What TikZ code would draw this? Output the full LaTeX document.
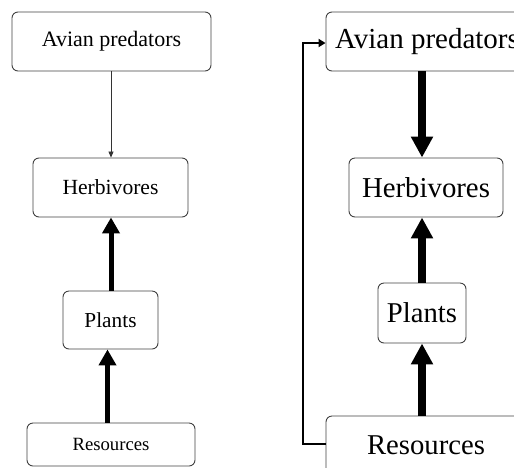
\documentclass[tikz,border=0pt]{standalone}
\usepackage{fontspec}
\setmainfont{Liberation Serif}
\usetikzlibrary{arrows.meta}
\begin{document}
\begin{tikzpicture}[x=1pt,y=-1pt,
  box/.style={draw=black!75,line width=0.9pt,rounded corners=6pt,inner sep=0pt,anchor=center},
  thickL/.style={line width=5pt,-{Triangle[width=17pt,length=16pt]}},
  thickR/.style={line width=7.5pt,-{Triangle[width=21pt,length=21pt]}},
  thinarr/.style={line width=0.8pt,black!80,-{Triangle[width=5pt,length=6pt]}},
  feed/.style={line width=2.6pt,-{Triangle[width=8pt,length=7pt]}}]
\useasboundingbox (0,0) rectangle (514,467);
\begin{scope}
\clip (0,0) rectangle (514,467);
% left panel
\node[box,minimum width=199pt,minimum height=59pt,font=\fontsize{22}{24}\selectfont] (lav) at (111.5,41.5) {Avian predators};
\node[box,minimum width=155pt,minimum height=59pt,font=\fontsize{21.6}{24}\selectfont] (lherb) at (110.5,187.5) {Herbivores};
\node[box,minimum width=95pt,minimum height=58pt,font=\fontsize{21.3}{24}\selectfont] (lpl) at (110.5,320) {Plants};
\node[box,minimum width=168pt,minimum height=43pt,font=\fontsize{18.7}{22}\selectfont] (lres) at (111,444.5) {Resources};
\coordinate (lx1) at (111,0);
\coordinate (lx2) at (107.5,0);
\draw[thinarr] (lav.south -| lx1) -- (lherb.north -| lx1);
\draw[thickL] (lpl.north -| lx1) -- (lherb.south -| lx1);
\draw[thickL] (lres.north -| lx2) -- (lpl.south -| lx2);
% right panel
\node[box,minimum width=202pt,minimum height=59pt,font=\fontsize{29}{32}\selectfont] (rav) at (427,41.5) {Avian predators};
\node[box,minimum width=154pt,minimum height=59pt,font=\fontsize{28.8}{32}\selectfont] (rherb) at (426,187.5) {Herbivores};
\node[box,minimum width=88pt,minimum height=60pt,font=\fontsize{28.7}{32}\selectfont] (rpl) at (422,313) {Plants};
\node[box,minimum width=200pt,minimum height=58pt,font=\fontsize{28.7}{32}\selectfont] (rres) at (426,445) {Resources};
\coordinate (rx) at (422,0);
\draw[thickR] (rav.south -| rx) -- (rherb.north -| rx);
\draw[thickR] (rpl.north -| rx) -- (rherb.south -| rx);
\draw[thickR] (rres.north -| rx) -- (rpl.south -| rx);
\coordinate (fb1) at (303,444);
\coordinate (fb2) at (303,43);
\draw[feed] (rres.west |- fb1) -- (fb1) -- (fb2) -- (rav.west |- fb2);
\end{scope}
\end{tikzpicture}
\end{document}
